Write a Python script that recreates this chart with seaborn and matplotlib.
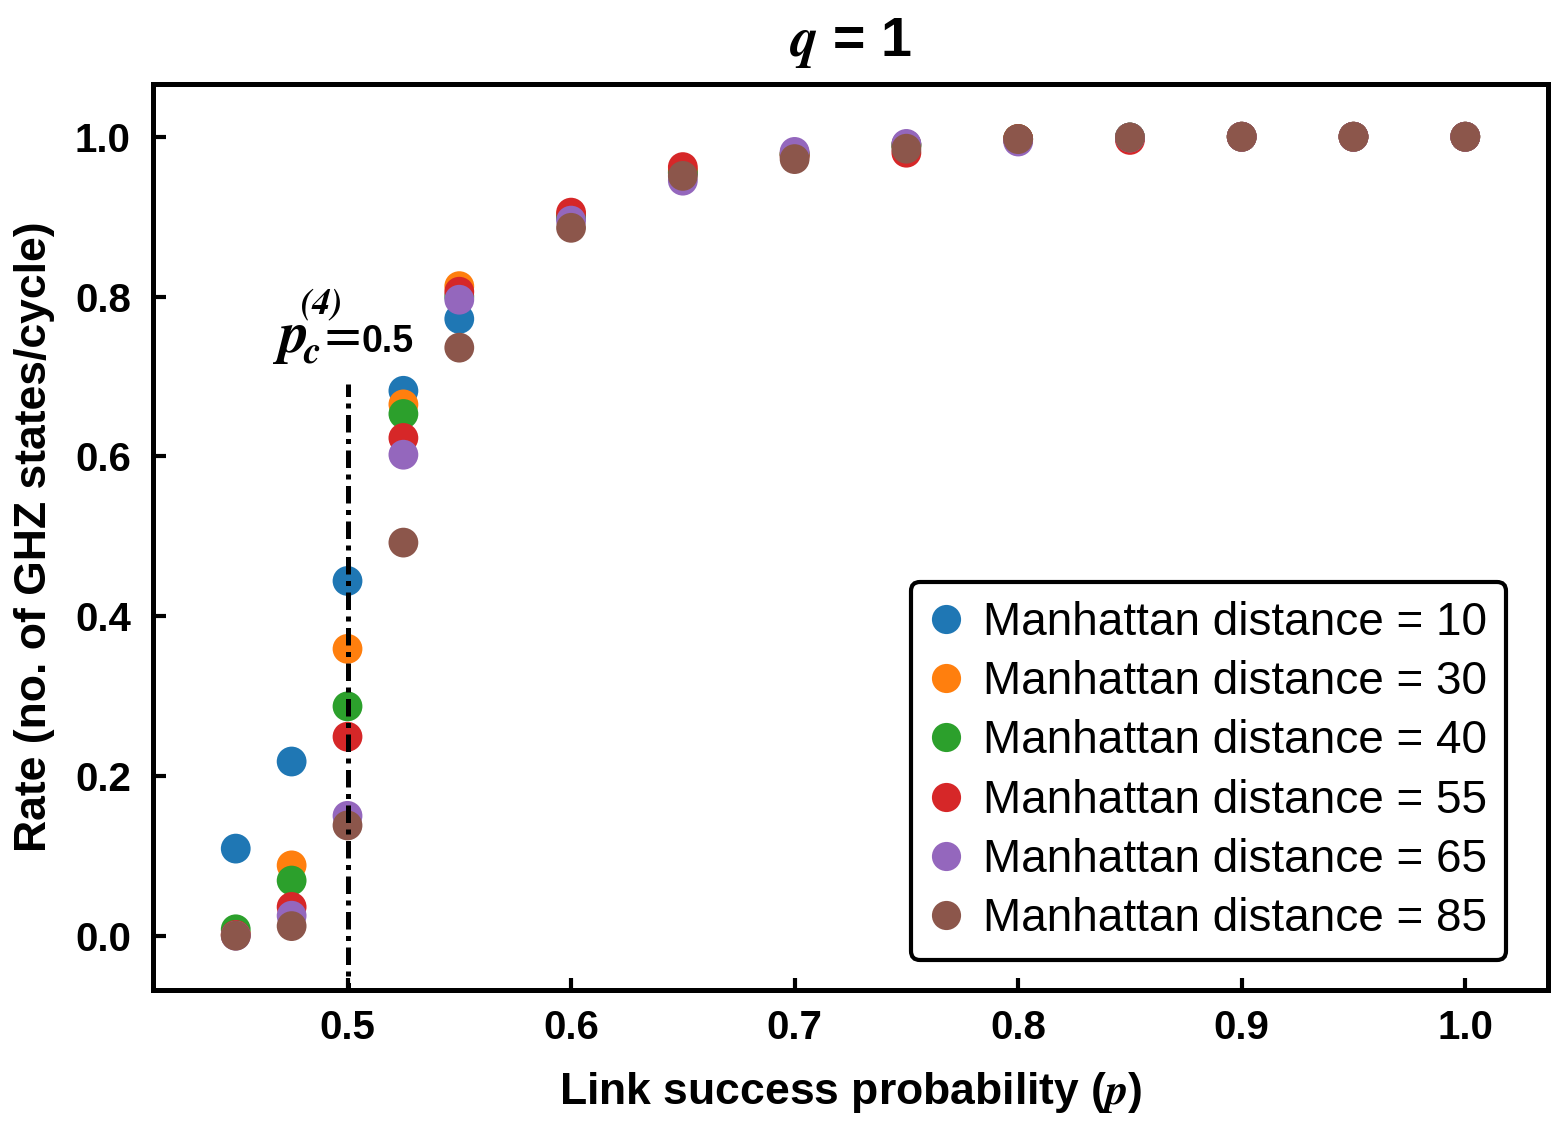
import numpy as np
import pandas as pd
import matplotlib
matplotlib.use("Agg")
import matplotlib.pyplot as plt
import seaborn as sns

# link success probability
p_vals = [0.45, 0.475, 0.5, 0.525, 0.55, 0.6, 0.65, 0.7, 0.75, 0.8, 0.85, 0.9, 0.95, 1.0]

# rate per Manhattan distance
rate_d10 = [0.109, 0.218, 0.444, 0.682, 0.772, 0.900, 0.955, 0.978, 0.990, 0.997, 0.999, 1.0, 1.0, 1.0]
rate_d30 = [0.002, 0.088, 0.359, 0.665, 0.813, 0.902, 0.958, 0.979, 0.990, 0.997, 0.999, 1.0, 1.0, 1.0]
rate_d40 = [0.008, 0.069, 0.287, 0.653, 0.800, 0.900, 0.955, 0.978, 0.989, 0.997, 0.999, 1.0, 1.0, 1.0]
rate_d55 = [0.001, 0.036, 0.249, 0.623, 0.806, 0.905, 0.962, 0.976, 0.980, 0.997, 0.996, 1.0, 1.0, 1.0]
rate_d65 = [0.000, 0.025, 0.150, 0.602, 0.796, 0.895, 0.945, 0.981, 0.991, 0.994, 0.999, 1.0, 1.0, 1.0]
rate_d85 = [0.000, 0.012, 0.138, 0.492, 0.736, 0.886, 0.951, 0.972, 0.985, 0.997, 0.999, 1.0, 1.0, 1.0]

distances = [10, 30, 40, 55, 65, 85]
rates = [rate_d10, rate_d30, rate_d40, rate_d55, rate_d65, rate_d85]
p_crit = 0.5

sns.set_theme(style="white")
plt.rcParams['font.family'] = ['Liberation Sans', 'DejaVu Sans']
plt.rcParams['mathtext.fontset'] = 'custom'
plt.rcParams['mathtext.it'] = 'STIXGeneral:italic:bold'
plt.rcParams['mathtext.rm'] = 'STIXGeneral'
plt.rcParams['text.color'] = 'black'
plt.rcParams['axes.labelcolor'] = 'black'
plt.rcParams['xtick.color'] = 'black'
plt.rcParams['ytick.color'] = 'black'

rows = []
for d, r in zip(distances, rates):
    for x, y in zip(p_vals, r):
        rows.append({'p': x, 'rate': y, 'label': f"Manhattan distance = {d}"})
df = pd.DataFrame(rows)

fig = plt.figure(figsize=(15.52, 11.29), dpi=100)
ax = fig.add_axes([0.0986, 0.1231, 0.8988, 0.8025])

sns.scatterplot(data=df, x='p', y='rate', hue='label', palette='tab10',
                s=460, linewidth=0, ax=ax)

# critical probability marker
ax.plot([p_crit, p_crit], [-0.08, 0.69], color='black', lw=3.6,
        dashes=(3.5, 1.3, 1.0, 1.3))
serif_bi = dict(family='STIXGeneral', style='italic', weight='bold', color='black')
ax.text(0.4700, 0.731, "p", ha='left', va='baseline', fontsize=42, **serif_bi)
ax.text(0.4803, 0.717, "c", ha='left', va='baseline', fontsize=28, **serif_bi)
ax.text(0.4790, 0.779, "(4)", ha='left', va='baseline', fontsize=26, **serif_bi)
ax.text(0.4897, 0.731, "=", ha='left', va='baseline', fontsize=38,
        family='STIXGeneral', color='black')
ax.text(0.5062, 0.731, "0.5", ha='left', va='baseline', fontsize=27,
        fontweight='bold', color='black')

ax.set_xlim(0.413, 1.037)
ax.set_ylim(-0.068, 1.066)
ax.set_xticks([0.5, 0.6, 0.7, 0.8, 0.9, 1.0])
ax.set_yticks([0.0, 0.2, 0.4, 0.6, 0.8, 1.0])
ax.set_xticklabels(["0.5", "0.6", "0.7", "0.8", "0.9", "1.0"])
ax.set_yticklabels(["0.0", "0.2", "0.4", "0.6", "0.8", "1.0"])
ax.tick_params(direction='in', length=9, width=3, labelsize=29,
               bottom=True, left=True, top=False, right=False)
ax.tick_params(axis='y', pad=16)
ax.tick_params(axis='x', pad=14)
for lab in ax.get_xticklabels() + ax.get_yticklabels():
    lab.set_fontweight('bold')

for sp in ax.spines.values():
    sp.set_linewidth(3.6)
    sp.set_color('black')

ax.set_xlabel(r"Link success probability ($p$)", fontsize=32, fontweight='bold', labelpad=16)
ax.set_ylabel("Rate (no. of GHZ states/cycle)", fontsize=32, fontweight='bold', labelpad=14)
ax.set_title(r"$q$ = 1", fontsize=40, fontweight='bold', pad=20)

handles, labels = ax.get_legend_handles_labels()
for h in handles:
    h.set_markersize(21)
leg = ax.legend(handles, labels, loc='lower right', bbox_to_anchor=(0.970, 0.033),
                fontsize=33, frameon=True, fancybox=True, edgecolor='black',
                framealpha=1, handletextpad=0.45, labelspacing=0.33,
                borderpad=0.42, handlelength=0.7, borderaxespad=0)
leg.get_frame().set_linewidth(3)
for t in leg.get_texts():
    t.set_color('black')

fig.savefig("out.png", dpi=100)
